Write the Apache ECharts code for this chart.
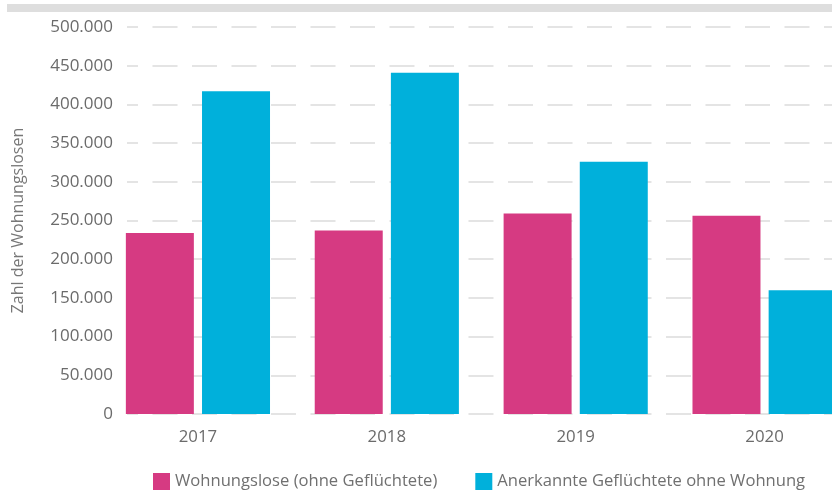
<!DOCTYPE html>
<html>
<head>
<meta charset="utf-8">
<script src="https://cdn.jsdelivr.net/npm/echarts@6/dist/echarts.min.js"></script>
<style>
  html, body { margin: 0; padding: 0; background: #fff; }
  #chart { width: 832px; height: 496px; }
</style>
</head>
<body>
<div id="chart"></div>
<script>
var years = ['2017', '2018', '2019', '2020'];
var wohnungslose = [234000, 237000, 259000, 256000];
var gefluechtete = [417000, 441000, 326000, 160000];
var seriesNames = ['Wohnungslose (ohne Geflüchtete)', 'Anerkannte Geflüchtete ohne Wohnung'];

var chart = echarts.init(document.getElementById('chart'));

function fmt(v) {
    return String(v).replace(/\B(?=(\d{3})+(?!\d))/g, '.');
}

var font = 'Open Sans';

chart.setOption({
    animation: false,
    color: ['#d63a82', '#00b0db'],
    graphic: [{
        type: 'rect',
        shape: { x: 7, y: 4, width: 825, height: 8 },
        style: { fill: '#dedede' }
    }],
    legend: {
        left: 153,
        bottom: 6,
        padding: 0,
        itemWidth: 17,
        itemHeight: 17,
        itemGap: 38,
        icon: 'rect',
        textStyle: { fontFamily: font, fontSize: 16.6, color: '#707070' },
        data: seriesNames
    },
    grid: [
        { left: 127, right: 0, top: 27, bottom: 82, outerBoundsMode: 'none' },
        // bar grid runs past the right edge, so the last bar is cut off
        { left: 103.5, width: 755.5, top: 27, bottom: 82, outerBoundsMode: 'none' }
    ],
    xAxis: [
        { type: 'value', gridIndex: 0, show: false },
        {
            type: 'category',
            gridIndex: 1,
            data: years,
            axisLine: { show: false },
            axisTick: { show: false },
            axisLabel: { fontFamily: font, fontSize: 16.8, color: '#6b6b6b', margin: 15 }
        }
    ],
    yAxis: [
        {
            type: 'value',
            gridIndex: 0,
            min: 0,
            max: 500000,
            interval: 50000,
            name: 'Zahl der Wohnungslosen',
            nameLocation: 'middle',
            nameGap: 101,
            nameTextStyle: { fontFamily: font, fontSize: 16, color: '#777' },
            axisLine: { show: false },
            axisTick: { show: false },
            axisLabel: { fontFamily: font, fontSize: 17, color: '#6b6b6b', margin: 14, formatter: fmt },
            splitLine: {
                lineStyle: { color: '#e4e4e4', width: 2, type: [25, 14.5], dashOffset: 14 }
            }
        },
        {
            type: 'value',
            gridIndex: 1,
            min: 0,
            max: 500000,
            show: false,
            splitLine: { show: false }
        }
    ],
    series: [
        {
            name: seriesNames[0],
            type: 'bar',
            xAxisIndex: 1,
            yAxisIndex: 1,
            barWidth: 68,
            barGap: '12%',
            data: wohnungslose
        },
        {
            name: seriesNames[1],
            type: 'bar',
            xAxisIndex: 1,
            yAxisIndex: 1,
            barWidth: 68,
            barGap: '12%',
            data: gefluechtete
        }
    ]
});
</script>
</body>
</html>
